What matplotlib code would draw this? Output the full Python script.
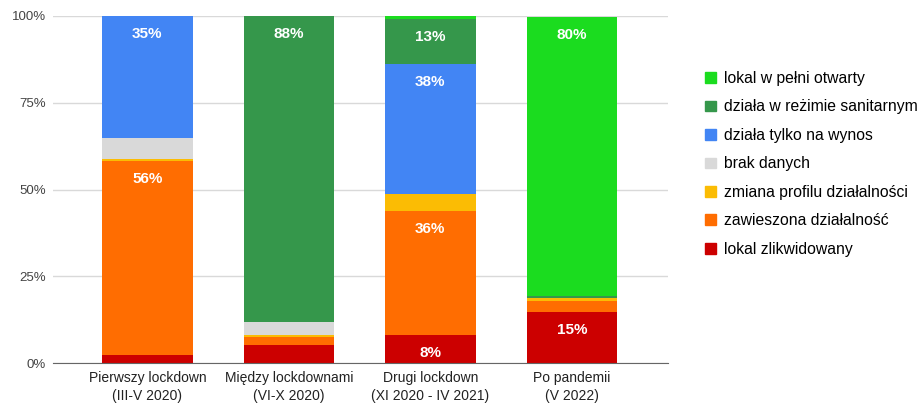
import numpy as np
import matplotlib
matplotlib.use("Agg")
import matplotlib.pyplot as plt
from matplotlib.patches import Patch

plt.rcParams["font.family"] = ["Liberation Sans", "DejaVu Sans"]

# === Data (percent of venues per period) ===
categories = ["Pierwszy lockdown\n(III-V 2020)", "Między lockdownami\n(VI-X 2020)",
              "Drugi lockdown\n(XI 2020 - IV 2021)", "Po pandemii\n(V 2022)"]
zlikwidowany = [2.3, 5.2, 8.2, 14.6]
zawieszona = [56.0, 2.2, 35.5, 3.2]
zmiana_profilu = [0.6, 0.6, 4.9, 0.8]
brak_danych = [5.8, 3.7, 0.0, 0.0]
na_wynos = [35.3, 0.0, 37.5, 0.0]
rezim_sanitarny = [0.0, 88.2, 13.0, 0.8]
otwarty = [0.0, 0.0, 0.9, 80.4]

# stacking order bottom -> top
series = [
    ("lokal zlikwidowany", zlikwidowany, "#cc0000"),
    ("zawieszona działalność", zawieszona, "#ff6d01"),
    ("zmiana profilu działalności", zmiana_profilu, "#fbbc04"),
    ("brak danych", brak_danych, "#d9d9d9"),
    ("działa tylko na wynos", na_wynos, "#4285f4"),
    ("działa w reżimie sanitarnym", rezim_sanitarny, "#35974b"),
    ("lokal w pełni otwarty", otwarty, "#1bdc1f"),
]

fig = plt.figure(figsize=(9.19, 4.04), dpi=100)
ax = fig.add_axes([53 / 919, 1 - 363 / 404, 615 / 919, 347 / 404])

x = np.arange(len(categories))
bottom = np.zeros(len(categories))
for name, vals, color in series:
    vals = np.array(vals)
    ax.bar(x, vals, 0.64, bottom=bottom, color=color, label=name, zorder=2)
    for xi, v, b in zip(x, vals, bottom):
        if v >= 7.5:
            ax.annotate(f"{v:.0f}%", (xi, b + v), xytext=(0, -13), textcoords="offset points",
                        ha="center", va="center", color="white", fontsize=11, fontweight="bold")
    bottom += vals

ax.set_xlim(-0.667, 3.68)
ax.set_ylim(0, 100)
ax.set_yticks([0, 25, 50, 75, 100])
ax.set_yticklabels(["0%", "25%", "50%", "75%", "100%"])
ax.set_xticks(x)
ax.set_xticklabels(categories, fontsize=10, color="#222222", linespacing=1.3)
ax.tick_params(axis="y", length=0, labelsize=9.5, labelcolor="#444444", pad=5)
ax.tick_params(axis="x", length=0, pad=6)
ax.grid(axis="y", color="#d9d9d9", linewidth=1, zorder=0)
for s in ["top", "right", "left"]:
    ax.spines[s].set_visible(False)
ax.spines["bottom"].set_color("#666666")
ax.spines["bottom"].set_zorder(3)

handles = [Patch(color=c, label=n) for n, v, c in series][::-1]
fig.legend(handles=handles, loc="upper left", bbox_to_anchor=(705 / 919, 1 - 71 / 404),
           frameon=False, fontsize=11.3, handlelength=0.7, handleheight=0.7,
           handletextpad=0.5, labelspacing=0.86, borderaxespad=0, borderpad=0)

plt.savefig("out.png", dpi=100)
plt.close()
